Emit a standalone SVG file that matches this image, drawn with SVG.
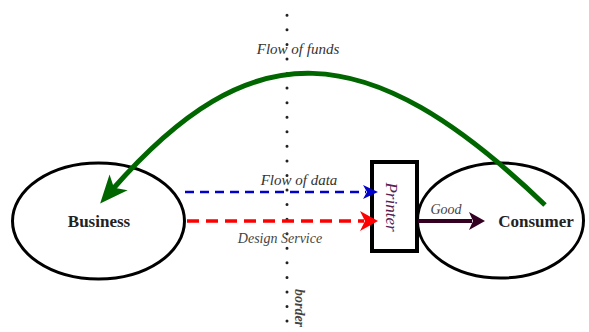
<svg xmlns="http://www.w3.org/2000/svg" width="589" height="332" viewBox="0 0 589 332">
  <style>
    .oval { fill: #ffffff; stroke: #000000; stroke-width: 3; }
    .box { fill: #ffffff; stroke: #000000; stroke-width: 4; }
    .name { font-family: "Liberation Serif", serif; font-weight: bold; font-size: 17px; fill: #222222; text-anchor: middle; }
    .label { font-family: "Liberation Serif", serif; font-style: italic; font-size: 15px; fill: #333333; text-anchor: middle; }
    .note { font-family: "Liberation Serif", serif; font-style: italic; font-size: 14px; fill: #444444; text-anchor: middle; }
  </style>
  <defs>
    <marker id="head-green" markerUnits="userSpaceOnUse" orient="auto" overflow="visible" markerWidth="1" markerHeight="1">
      <path d="M18,0 L-10,-12 L-3,0 L-10,12 Z" fill="#006600"/>
    </marker>
    <marker id="head-blue" markerUnits="userSpaceOnUse" orient="auto" overflow="visible" markerWidth="1" markerHeight="1">
      <path d="M12,0 L-3,-7 L1,0 L-3,7 Z" fill="#0000cc"/>
    </marker>
    <marker id="head-red" markerUnits="userSpaceOnUse" orient="auto" overflow="visible" markerWidth="1" markerHeight="1">
      <path d="M14,0 L-4,-10 L1,0 L-4,10 Z" fill="#ff0000"/>
    </marker>
    <marker id="head-good" markerUnits="userSpaceOnUse" orient="auto" overflow="visible" markerWidth="1" markerHeight="1">
      <path d="M13,0 L-3,-9 L1,0 L-3,9 Z" fill="#330022"/>
    </marker>
  </defs>

  <!-- border line -->
  <g id="border">
    <line x1="287" y1="15.3" x2="287" y2="322" stroke="#222222" stroke-width="3" stroke-linecap="round" stroke-dasharray="0 14.56"/>
    <text class="note" font-weight="bold" transform="translate(295,308) rotate(90)" x="0" y="0">border</text>
  </g>

  <g id="business">
    <ellipse class="oval" cx="98.5" cy="221" rx="86" ry="58"/>
    <text class="name" x="99" y="227">Business</text>
  </g>

  <g id="consumer">
    <ellipse class="oval" cx="500.5" cy="220.5" rx="83" ry="57.5"/>
    <text class="name" x="536" y="227">Consumer</text>
  </g>

  <g id="printer">
    <rect class="box" x="372" y="162" width="45" height="89"/>
    <text transform="translate(386,207) rotate(90)" x="0" y="0" font-family="Liberation Serif, serif" font-style="italic" font-size="17" fill="#5a2050" text-anchor="middle">Printer</text>
  </g>

  <g id="connectors">
    <!-- payment back from consumer to business -->
    <path d="M545,205 C365,32 250,32 112,190" fill="none" stroke="#006600" stroke-width="5" marker-end="url(#head-green)"/>
    <text class="label" x="298" y="54">Flow of funds</text>

    <!-- data to printer -->
    <line x1="185" y1="192" x2="366" y2="192" stroke="#0000cc" stroke-width="2.5" stroke-dasharray="9 6" marker-end="url(#head-blue)"/>
    <text class="label" x="299" y="185">Flow of data</text>

    <!-- design service to printer -->
    <line x1="187" y1="221" x2="364" y2="221" stroke="#ff0000" stroke-width="3.5" stroke-dasharray="12 7" marker-end="url(#head-red)"/>
    <text class="note" x="280" y="243">Design Service</text>

    <!-- goods to consumer -->
    <line x1="418" y1="221" x2="472" y2="221" stroke="#330022" stroke-width="4" marker-end="url(#head-good)"/>
    <text class="note" x="446" y="214">Good</text>
  </g>
</svg>
